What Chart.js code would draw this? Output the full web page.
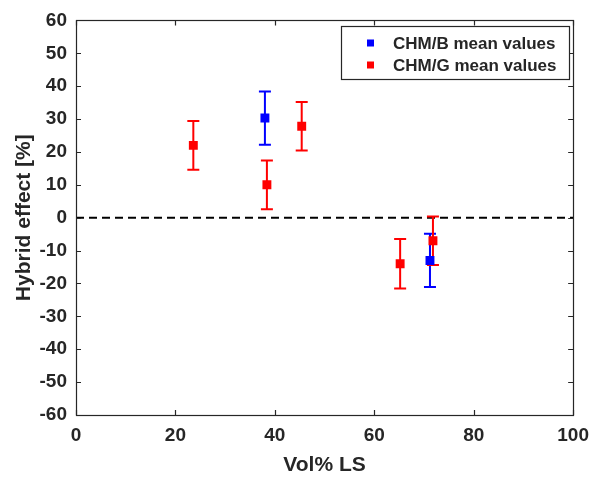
<!DOCTYPE html>
<html><head><meta charset="utf-8">
<script src="https://cdn.jsdelivr.net/npm/chart.js@4/dist/chart.umd.min.js"></script>
<style>html,body{margin:0;padding:0;background:#fff}#wrap{width:598px;height:482px}</style>
</head><body><div id="wrap"><canvas id="c" width="598" height="482"></canvas></div>
<script>
const seriesNames = ["CHM/B mean values", "CHM/G mean values"];
const seriesColors = ["#0000ff", "#ff0000"];
const bX = [38.0, 71.2];
const bY = [30.3, -13.0];
const bErr = [8.1, 8.1];
const gX = [23.6, 38.4, 45.4, 65.2, 71.8];
const gY = [22.0, 10.0, 27.8, -14.0, -7.0];
const gErr = [7.4, 7.4, 7.4, 7.5, 7.4];
const xTicks = [0, 20, 40, 60, 80, 100];
const yTicks = [-60, -50, -40, -30, -20, -10, 0, 10, 20, 30, 40, 50, 60];
const FONT = "'Liberation Sans', Arial, Helvetica, sans-serif";

function pts(xs, ys, es){ return xs.map((x,i)=>({x:x, y:ys[i], e:es[i]})); }

const deco = {
  id:'deco',
  beforeDatasetsDraw(chart){
    const ctx = chart.ctx, xs = chart.scales.x, ys = chart.scales.y;
    ctx.save();
    ctx.strokeStyle = '#000'; ctx.lineWidth = 2; ctx.setLineDash([8,5]);
    ctx.beginPath();
    const y0 = ys.getPixelForValue(0);
    ctx.moveTo(xs.getPixelForValue(0), y0); ctx.lineTo(xs.getPixelForValue(100), y0);
    ctx.stroke(); ctx.setLineDash([]);
    chart.data.datasets.forEach(ds=>{
      ctx.strokeStyle = ds.borderColor; ctx.lineWidth = 2;
      ds.data.forEach(p=>{
        const px = xs.getPixelForValue(p.x);
        const top = ys.getPixelForValue(p.y + p.e), bot = ys.getPixelForValue(p.y - p.e);
        ctx.beginPath();
        ctx.moveTo(px, top); ctx.lineTo(px, bot);
        ctx.moveTo(px-6, top); ctx.lineTo(px+6, top);
        ctx.moveTo(px-6, bot); ctx.lineTo(px+6, bot);
        ctx.stroke();
      });
    });
    ctx.restore();
  },
  afterDraw(chart){
    const ctx = chart.ctx, xs = chart.scales.x, ys = chart.scales.y, a = chart.chartArea;
    ctx.save();
    ctx.strokeStyle = '#262626'; ctx.lineWidth = 1.2;
    ctx.strokeRect(Math.round(a.left)+0.5, Math.round(a.top)+0.5, Math.round(a.right-a.left), Math.round(a.bottom-a.top));
    ctx.beginPath();
    xTicks.forEach(v=>{
      const p = Math.round(xs.getPixelForValue(v))+0.5;
      ctx.moveTo(p, a.bottom); ctx.lineTo(p, a.bottom-5);
      ctx.moveTo(p, a.top); ctx.lineTo(p, a.top+5);
    });
    yTicks.forEach(v=>{
      const p = Math.round(ys.getPixelForValue(v))+0.5;
      ctx.moveTo(a.left, p); ctx.lineTo(a.left+5, p);
      ctx.moveTo(a.right, p); ctx.lineTo(a.right-5, p);
    });
    ctx.stroke();
    // legend
    const lx = 341, ly = 26, lw = 228, lh = 53;
    ctx.fillStyle = '#fff'; ctx.fillRect(lx, ly, lw, lh);
    ctx.strokeStyle = '#262626'; ctx.lineWidth = 1.2; ctx.strokeRect(lx+0.5, ly+0.5, lw, lh);
    ctx.font = 'bold 17px ' + FONT; ctx.textBaseline = 'middle'; ctx.textAlign = 'left';
    seriesNames.forEach((n,i)=>{
      const yy = ly + 17 + i*22;
      ctx.fillStyle = seriesColors[i];
      ctx.fillRect(lx+26, yy-3.5, 7, 7);
      ctx.fillStyle = '#262626';
      ctx.fillText(n, lx+52, yy+1);
    });
    ctx.restore();
  }
};

new Chart(document.getElementById('c'), {
  type:'scatter',
  data:{ datasets:[
    {label:seriesNames[0], data:pts(bX,bY,bErr), borderColor:seriesColors[0], backgroundColor:seriesColors[0], pointStyle:'rect', pointRadius:6.3, borderWidth:0},
    {label:seriesNames[1], data:pts(gX,gY,gErr), borderColor:seriesColors[1], backgroundColor:seriesColors[1], pointStyle:'rect', pointRadius:6.3, borderWidth:0}
  ]},
  options:{
    responsive:false, animation:false, devicePixelRatio:1,
    layout:{padding:{top:16, right:22, left:0, bottom:0}},
    plugins:{legend:{display:false}, tooltip:{enabled:false}},
    scales:{
      x:{type:'linear', min:0, max:100, afterBuildTicks(s){ s.ticks = xTicks.map(v=>({value:v})); },
        grid:{display:false, drawTicks:false}, border:{display:false},
        ticks:{color:'#262626', font:{family:FONT, size:19, weight:'bold'}, padding:9, maxRotation:0},
        title:{display:true, text:'Vol% LS', color:'#262626', font:{family:FONT, size:21, weight:'bold'}, padding:{top:0}},
        afterFit(s){ s.height = 67; }
      },
      y:{type:'linear', min:-60, max:60, afterBuildTicks(s){ s.ticks = yTicks.map(v=>({value:v})); },
        grid:{display:false, drawTicks:false}, border:{display:false},
        ticks:{color:'#262626', font:{family:FONT, size:19, weight:'bold'}, padding:9},
        title:{display:true, text:'Hybrid effect [%]', color:'#262626', font:{family:FONT, size:21, weight:'bold'}, padding:{top:12, bottom:0}},
        afterFit(s){ s.width = 76; }
      }
    }
  },
  plugins:[deco]
});
</script></body></html>
